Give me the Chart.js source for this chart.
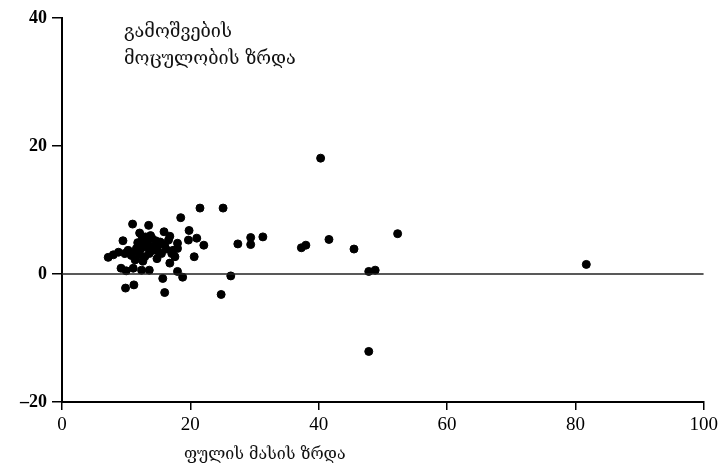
<!DOCTYPE html>
<html>
<head>
<meta charset="utf-8">
<script src="https://cdn.jsdelivr.net/npm/chart.js@4/dist/chart.umd.min.js"></script>
<style>
  html, body { margin: 0; padding: 0; background: #fff; }
  #wrap { width: 722px; height: 468px; }
</style>
</head>
<body>
<div id="wrap"><canvas id="grafica"></canvas></div>
<script>
// ფულის მასის ზრდა (x) / გამოშვების მოცულობის ზრდა (y)
let valores_x = [7.2, 8.0, 8.8, 9.5, 9.2, 10.0, 11.1, 12.4, 13.6, 9.9, 11.2, 11.0, 13.5, 12.1, 15.9, 16.8, 18.5, 19.8, 19.7, 21.0,
    22.1, 21.5, 25.1, 18.0, 17.3, 18.0, 20.6, 16.8, 18.0, 18.8, 15.7, 16.0, 24.8, 26.3, 27.4, 29.4, 29.4, 31.3, 37.3, 38.0,
    40.3, 41.6, 45.5, 47.8, 48.8, 52.3, 47.8, 81.7,
    13.4, 12.8, 14.0, 13.0, 14.3, 12.2, 11.6, 10.3, 14.2, 15.5, 17.1, 12.9, 11.4, 17.6, 16.6, 15.0, 13.6, 12.0, 10.8, 14.8,
    9.8, 15.3, 13.8, 12.5, 16.2, 11.8, 13.0, 14.6, 12.4, 13.8, 11.0, 14.9, 16.0, 12.6];
let valores_y = [2.6, 3.0, 3.4, 5.2, 0.9, 0.5, 0.9, 0.6, 0.6, -2.2, -1.7, 7.8, 7.6, 6.4, 6.6, 5.9, 8.8, 6.8, 5.3, 5.6,
    4.5, 10.3, 10.3, 4.8, 3.7, 4.0, 2.7, 1.7, 0.4, -0.5, -0.7, -2.9, -3.2, -0.3, 4.7, 5.7, 4.6, 5.8, 4.1, 4.5,
    18.1, 5.4, 3.9, 0.4, 0.6, 6.3, -12.1, 1.5,
    4.8, 5.3, 5.6, 4.2, 4.2, 3.8, 4.0, 3.7, 3.7, 3.2, 3.2, 2.7, 2.2, 2.7, 5.3, 4.5, 3.2, 3.0, 2.9, 2.4,
    3.2, 5.0, 6.0, 5.8, 3.9, 4.9, 5.8, 5.2, 4.6, 4.0, 3.4, 3.6, 4.6, 2.0];

let linea_cero_x = [0, 100]; // línea horizontal en y = 0
let linea_cero_y = [0, 0];

let titulo_y = ['გამოშვების', 'მოცულობის ზრდა'];
let titulo_x = 'ფულის მასის ზრდა';

let puntos = valores_x.map(function(x, i) {
    return { x: x, y: valores_y[i] };
});
let linea = linea_cero_x.map(function(x, i) {
    return { x: x, y: linea_cero_y[i] };
});

// textos dibujados a mano
const textos = {
    id: 'textos',
    afterDraw(chart) {
        const ctx = chart.ctx;
        const area = chart.chartArea;
        ctx.save();
        ctx.fillStyle = '#111';
        ctx.textBaseline = 'middle';
        ctx.textAlign = 'left';
        ctx.font = '18px "DejaVu Serif"';
        ctx.fillText(titulo_y[0], area.left + 62, 32);
        ctx.fillText(titulo_y[1], area.left + 62, 59);
        ctx.font = '16px "DejaVu Serif"';
        ctx.fillText(titulo_x, 184, 455);
        ctx.restore();
    }
};

const eje = {
    display: true,
    drawOnChartArea: false,
    drawTicks: true,
    color: '#000',
    lineWidth: 1.5
};

let grafica = new Chart(document.getElementById('grafica'), {
    type: 'scatter',
    data: {
        datasets: [{
            type: 'line',
            data: linea,
            borderColor: '#222',
            borderWidth: 1.5,
            pointRadius: 0,
            fill: false
        }, {
            data: puntos,
            backgroundColor: '#000',
            borderColor: '#000',
            pointRadius: 4,
            pointHoverRadius: 4
        }]
    },
    options: {
        responsive: true,
        maintainAspectRatio: false,
        animation: false,
        layout: {
            padding: { top: 18, right: 18, left: 0, bottom: 0 }
        },
        plugins: {
            legend: { display: false },
            tooltip: { enabled: false }
        },
        scales: {
            x: {
                type: 'linear',
                min: 0,
                max: 100,
                grid: Object.assign({ tickLength: 8 }, eje),
                border: { color: '#000', width: 2 },
                ticks: {
                    stepSize: 20,
                    color: '#000',
                    padding: 4,
                    font: { family: '"Liberation Serif"', size: 19 }
                },
                afterFit: function(scale) { scale.height = 66; }
            },
            y: {
                min: -20,
                max: 40,
                grid: Object.assign({ tickLength: 10 }, eje),
                border: { color: '#000', width: 2 },
                ticks: {
                    stepSize: 20,
                    color: '#000',
                    padding: 5,
                    font: { family: '"Liberation Serif"', size: 18, weight: 'bold' },
                    callback: function(v) { return String(v).replace('-', '–'); }
                },
                afterFit: function(scale) { scale.width = 62; }
            }
        }
    },
    plugins: [textos]
});
</script>
</body>
</html>
